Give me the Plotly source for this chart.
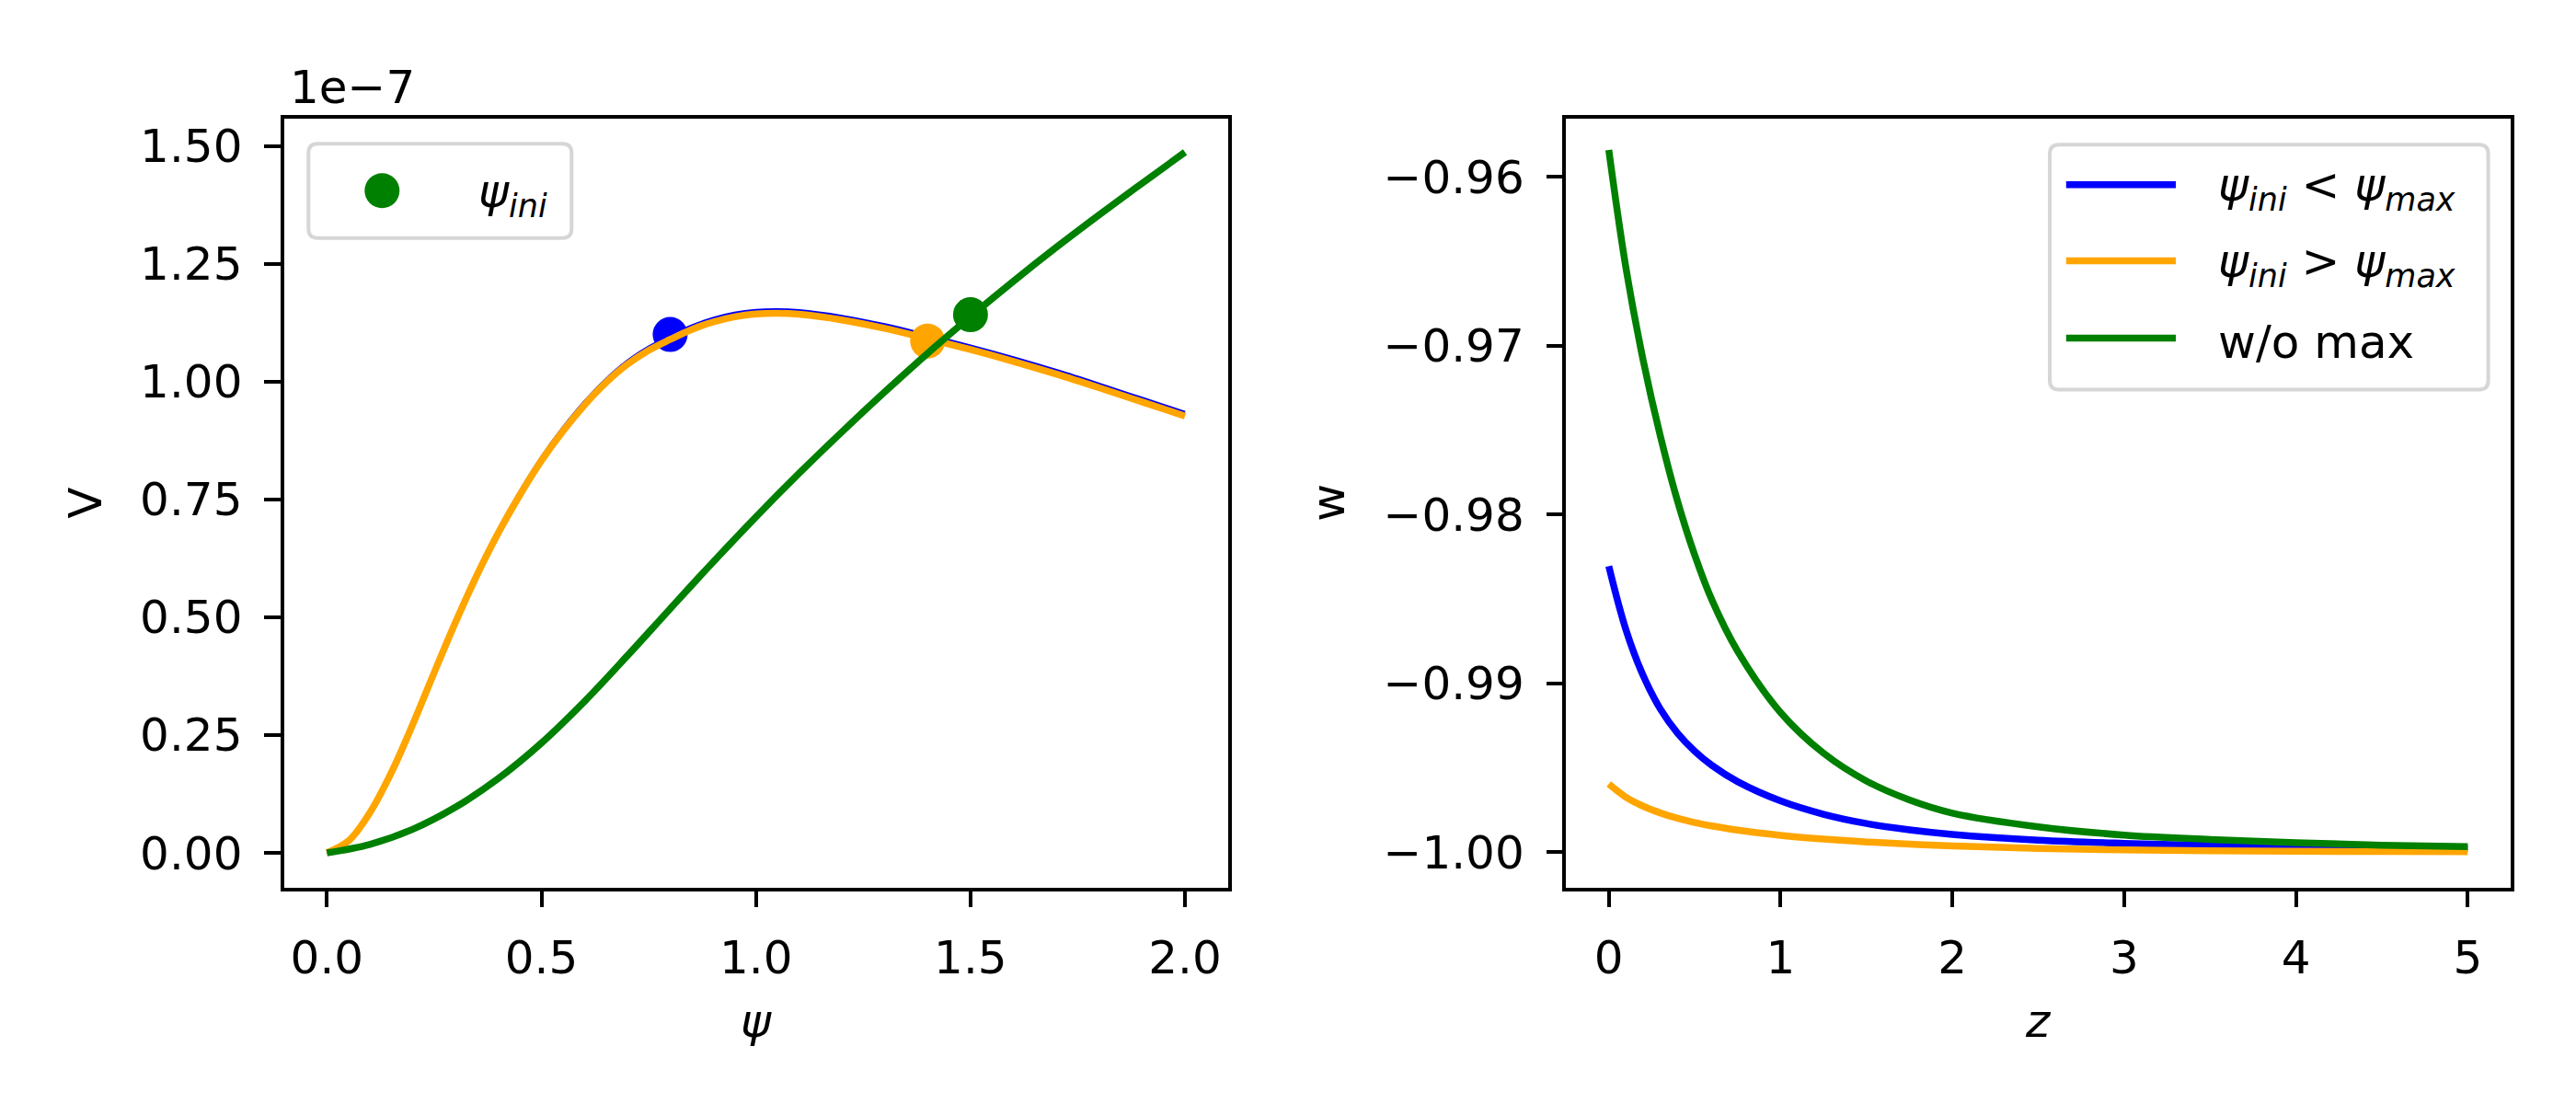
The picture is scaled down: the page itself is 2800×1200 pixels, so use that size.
import plotly.graph_objects as go

# ---- data ----
# left panel: potential V(psi), in units of 1e-7
psi_orange = [0, 0.05, 0.1, 0.15, 0.2, 0.25, 0.3, 0.35, 0.4, 0.45, 0.5, 0.55, 0.6, 0.65, 0.7, 0.75,
              0.8, 0.85, 0.9, 0.95, 1.0, 1.05, 1.1, 1.2, 1.3, 1.4, 1.5, 1.6, 1.7, 1.8, 1.9, 2.0]
v_orange = [0, 0.025, 0.085, 0.17, 0.2725, 0.3825, 0.49, 0.59, 0.68, 0.76, 0.8325, 0.895, 0.95, 0.9975,
            1.0365, 1.0665, 1.0895, 1.1105, 1.1265, 1.1375, 1.1435, 1.145, 1.143, 1.131, 1.113, 1.091,
            1.068, 1.043, 1.016, 0.987, 0.957, 0.927]

psi_blue = [0, 0.05, 0.1, 0.15, 0.2, 0.25, 0.3, 0.35, 0.4, 0.45, 0.5, 0.55, 0.6, 0.65, 0.7, 0.75,
            0.8, 0.85, 0.9, 0.95, 1.0, 1.05, 1.1, 1.2, 1.3, 1.4, 1.5, 1.6, 1.7, 1.8, 1.9, 2.0]
v_blue = [0, 0.028, 0.09, 0.177, 0.2795, 0.3895, 0.497, 0.597, 0.687, 0.767, 0.8395, 0.902, 0.957, 1.0045,
          1.0435, 1.0735, 1.0975, 1.1185, 1.1345, 1.1455, 1.1515, 1.153, 1.151, 1.139, 1.121, 1.099,
          1.076, 1.051, 1.024, 0.995, 0.965, 0.935]

psi_green = [0, 0.1, 0.2, 0.3, 0.4, 0.5, 0.6, 0.7, 0.8, 0.9, 1.0, 1.1, 1.2, 1.3, 1.4, 1.5, 1.6, 1.7, 1.8, 1.9, 2.0]
v_green = [0, 0.018, 0.05, 0.097, 0.158, 0.233, 0.321, 0.418, 0.518, 0.617, 0.713, 0.805, 0.893, 0.978,
           1.06, 1.138, 1.213, 1.285, 1.354, 1.421, 1.487]

# initial points psi_ini (blue, orange, green)
psi_ini = [0.8, 1.4, 1.5]
v_ini = [1.10, 1.086, 1.142]

# right panel: equation of state w(z)
z = [0, 0.1, 0.2, 0.3, 0.4, 0.5, 0.6, 0.75, 1.0, 1.25, 1.5, 1.75, 2.0, 2.5, 3.0, 3.5, 4.0, 4.5, 5.0]
w_blue = [-0.98306, -0.98683, -0.98954, -0.99152, -0.99295, -0.99402, -0.99486, -0.99583, -0.99697, -0.99776,
          -0.99831, -0.99868, -0.99895, -0.99929, -0.99948, -0.99961, -0.99969, -0.99974, -0.999775]
w_orange = [-0.99597, -0.99675, -0.99728, -0.99768, -0.998, -0.99825, -0.99845, -0.9987, -0.99901, -0.99923,
            -0.9994, -0.99953, -0.99963, -0.99978, -0.99987, -0.99992, -0.99995, -0.99997, -0.99998]
w_green = [-0.9584, -0.9654, -0.97085, -0.97535, -0.9792, -0.9824, -0.98506, -0.9881, -0.99173, -0.99414,
           -0.99579, -0.99691, -0.99769, -0.9985, -0.99899, -0.99925, -0.99945, -0.99959, -0.99968]

legend_right = ["<i>ψ</i><sub><i>ini</i></sub> &lt; <i>ψ</i><sub><i>max</i></sub>",
                "<i>ψ</i><sub><i>ini</i></sub> &gt; <i>ψ</i><sub><i>max</i></sub>",
                "w/o max"]

BLUE, ORANGE, GREEN = "#0000ff", "#ffa500", "#008000"
W, H = 2800, 1200
FONT = "DejaVu Sans"
LW = 7.5


def px(x):
    return x / W


def py(y):
    return 1 - y / H


def rounded_box(x0, y0, x1, y1, r=10):
    l, rt, t, b = px(x0), px(x1), py(y0), py(y1)
    rx, ry = r / W, r / H
    return (f"M {l+rx},{t} L {rt-rx},{t} Q {rt},{t} {rt},{t-ry} L {rt},{b+ry} "
            f"Q {rt},{b} {rt-rx},{b} L {l+rx},{b} Q {l},{b} {l},{b+ry} "
            f"L {l},{t-ry} Q {l},{t} {l+rx},{t} Z")


def curve(x, y, color, width, xa, ya):
    return go.Scatter(x=x, y=y, mode="lines", xaxis=xa, yaxis=ya,
                      line=dict(color=color, width=width, shape="spline", smoothing=1.0))


def dot(x, y, color):
    return go.Scatter(x=x, y=y, mode="markers", xaxis="x", yaxis="y",
                      marker=dict(color=color, size=38, line=dict(width=0)))


fig = go.Figure()

# left panel (draw order as in the original: line then its point)
fig.add_trace(curve(psi_blue, v_blue, BLUE, 3, "x", "y"))
fig.add_trace(dot(psi_ini[:1], v_ini[:1], BLUE))
fig.add_trace(curve(psi_orange, v_orange, ORANGE, LW, "x", "y"))
fig.add_trace(dot(psi_ini[1:2], v_ini[1:2], ORANGE))
fig.add_trace(curve(psi_green, v_green, GREEN, LW, "x", "y"))
fig.add_trace(dot(psi_ini[2:], v_ini[2:], GREEN))

# right panel
fig.add_trace(curve(z, w_blue, BLUE, LW, "x2", "y2"))
fig.add_trace(curve(z, w_orange, ORANGE, LW, "x2", "y2"))
fig.add_trace(curve(z, w_green, GREEN, LW, "x2", "y2"))

axis_style = dict(showgrid=False, zeroline=False, showline=True, mirror=True, linecolor="black", linewidth=3.5,
                  ticks="outside", ticklen=17.5, tickwidth=3.5, tickcolor="black",
                  tickfont=dict(family=FONT, size=50, color="black"))

fig.update_layout(
    width=W, height=H,
    paper_bgcolor="white", plot_bgcolor="white",
    margin=dict(l=0, r=0, t=0, b=0),
    showlegend=False,
    font=dict(family=FONT, size=50, color="black"),
    xaxis=dict(domain=[px(300.7), px(1326.7)], range=[-0.1, 2.1], anchor="y",
               tickvals=[0, 0.5, 1.0, 1.5, 2.0], tickformat=".1f", ticklabelstandoff=12, **axis_style),
    yaxis=dict(domain=[py(956.7), py(120.7)], range=[-0.0736, 1.5586], anchor="x",
               tickvals=[0, 0.25, 0.5, 0.75, 1.0, 1.25, 1.5], tickformat=".2f", ticklabelstandoff=14, **axis_style),
    xaxis2=dict(domain=[px(1694), px(2721)], range=[-0.25, 5.25], anchor="y2",
                tickvals=[0, 1, 2, 3, 4, 5], ticklabelstandoff=12, **axis_style),
    yaxis2=dict(domain=[py(956.7), py(120.7)], range=[-1.0021, -0.95653], anchor="x2",
                tickvals=[-1.0, -0.99, -0.98, -0.97, -0.96], tickformat=".2f", ticklabelstandoff=14, **axis_style),
)

# axis labels and offset text
ann = [
    dict(text="1e−7", x=px(305), y=py(87), xanchor="left", yanchor="middle"),
    dict(text="V", x=px(85), y=py(538.7), textangle=-90, xanchor="center", yanchor="middle"),
    dict(text="<i>ψ</i>", x=px(813.7), y=py(1102), xanchor="center", yanchor="middle"),
    dict(text="w", x=px(1436), y=py(538.7), textangle=-90, xanchor="center", yanchor="middle"),
    dict(text="<i>z</i>", x=px(2207.5), y=py(1102), xanchor="center", yanchor="middle"),
    # legend texts
    dict(text="<i>ψ</i><sub><i>ini</i></sub>", x=px(510), y=py(203), xanchor="left", yanchor="middle"),
]
for label, yy in zip(legend_right, [192.8, 275.4, 359.6]):
    ann.append(dict(text=label, x=px(2401), y=py(yy + 4), xanchor="left", yanchor="middle"))
for a in ann:
    a.update(xref="paper", yref="paper", showarrow=False, font=dict(family=FONT, size=50, color="black"))
fig.update_layout(annotations=ann)

# legend frames and keys
shapes = [
    dict(type="path", path=rounded_box(327.3, 148.3, 613.3, 250.7), xref="paper", yref="paper",
         line=dict(color="#d6d6d6", width=4), fillcolor="rgba(255,255,255,0.8)"),
    dict(type="circle", xref="paper", yref="paper", xsizemode="pixel", ysizemode="pixel",
         xanchor=px(407.3), yanchor=py(199.3), x0=-19, x1=19, y0=-19, y1=19,
         fillcolor=GREEN, line=dict(width=0)),
    dict(type="path", path=rounded_box(2220, 149.2, 2696.6, 415.5), xref="paper", yref="paper",
         line=dict(color="#d6d6d6", width=4), fillcolor="rgba(255,255,255,0.8)"),
]
for c, yy in zip([BLUE, ORANGE, GREEN], [192.8, 275.4, 359.6]):
    shapes.append(dict(type="line", xref="paper", yref="paper", x0=px(2237.8), x1=px(2357), y0=py(yy), y1=py(yy),
                       line=dict(color=c, width=LW)))
fig.update_layout(shapes=shapes)

fig.write_html("out.html")
